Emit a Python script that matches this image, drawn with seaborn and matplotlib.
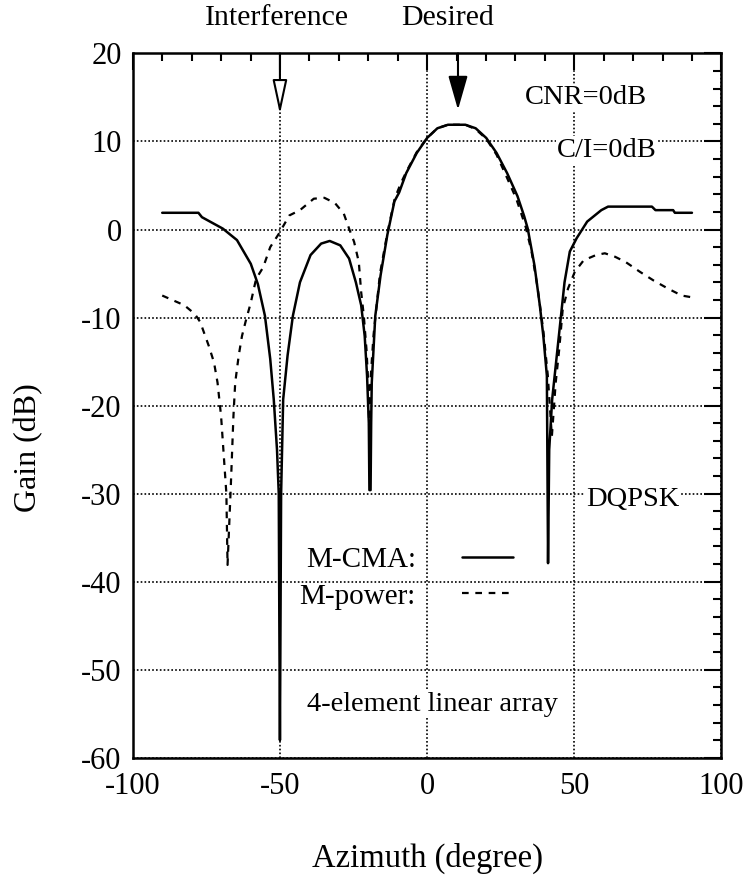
import numpy as np
import pandas as pd
import matplotlib
matplotlib.use('Agg')
import matplotlib.pyplot as plt
import seaborn as sns
from matplotlib.ticker import MultipleLocator

# M-CMA (solid)
az_cma = [-90, -77.7, -76.5, -69.4, -64.6, -59.9, -57.5, -55.1, -53.3, -52.1, -51.0,
          -50.4, -50.2, -50.0, -49.6, -48.9, -47.4, -45.6, -43.2, -39.6, -36.0, -33.1,
          -29.5, -26.5, -24.2, -22.4, -21.2, -20.4, -19.8, -19.6, -19.2, -19.0, -18.8,
          -17.6, -15.8, -13.5, -11.1, -9.5, -7.1, -3.5, 0.0, 3.5, 7.1, 13.0, 16.5,
          20.1, 23.6, 27.2, 30.7, 33.0, 34.2, 36.5, 38.3, 39.5, 40.7, 41.1, 41.5,
          42.5, 44.3, 46.7, 48.5, 50.8, 54.4, 59.2, 61.5, 76.4, 77.6, 83.6, 84.2, 90]
gain_cma = [1.9, 1.9, 1.4, 0.1, -1.2, -3.9, -6.2, -9.8, -14.7, -19.3, -25.0,
            -30.0, -45.0, -58.0, -30.0, -19.3, -14.3, -9.8, -6.0, -2.9, -1.6, -1.3,
            -1.8, -3.3, -6.0, -8.6, -12.1, -16.6, -22.0, -29.6, -29.6, -22.0, -17.4,
            -9.8, -5.2, -0.6, 3.2, 4.2, 6.4, 8.7, 10.4, 11.5, 11.9, 11.9, 11.5,
            10.4, 8.7, 6.4, 3.8, 1.5, 0.1, -4.1, -8.6, -12.1, -16.6, -37.9, -25.0,
            -19.3, -13.6, -6.0, -2.5, -1.0, 0.9, 2.2, 2.6, 2.6, 2.2, 2.2, 1.9, 1.9]

# M-power (dashed)
az_pow = [-90, -82.5, -78.9, -77.1, -74.2, -72.4, -71.2, -70.0, -68.2, -67.8,
          -66.7, -65.8, -65.2, -64.0, -62.9, -61.7, -59.9, -58.1, -55.7, -53.3,
          -50.4, -46.8, -43.2, -38.5, -34.9, -31.3, -28.3, -26.5, -24.8, -23.2,
          -22.4, -21.5, -20.6, -20.0, -19.6, -19.2, -18.2, -16.0, -13.5, -11.0,
          -9.0, -7.0, -3.5, 0.0, 3.5, 7.1, 13.0, 16.5, 20.1, 23.6, 27.0, 30.3,
          33.5, 35.5, 37.5, 39.5, 41.0, 42.4, 43.7, 44.9, 46.1, 47.9, 50.2, 53.2,
          57.4, 60.4, 63.9, 67.5, 72.3, 77.0, 81.8, 86.5, 90]
gain_pow = [-7.5, -8.6, -9.6, -10.5, -13.2, -15.1, -17.4, -21.2, -30.0, -38.1,
            -29.2, -21.2, -17.4, -14.3, -12.1, -10.5, -8.3, -5.6, -4.3, -2.0,
            -0.5, 1.6, 2.2, 3.5, 3.6, 3.0, 1.8, 0.1, -1.4, -3.7,
            -7.1, -9.8, -13.6, -17.4, -24.0, -17.0, -12.0, -5.0, -0.4, 3.5,
            5.2, 6.6, 8.8, 10.4, 11.5, 11.9, 11.9, 11.4, 10.3, 8.5, 6.0, 3.5,
            0.3, -2.5, -6.5, -11.5, -16.5, -23.5, -17.4, -13.6, -9.0, -6.7, -4.8, -3.5,
            -2.9, -2.7, -3.1, -3.7, -4.8, -5.8, -6.7, -7.5, -7.7]

x_ticks = [-100, -50, 0, 50, 100]
y_ticks = [20, 10, 0, -10, -20, -30, -40, -50, -60]

df_cma = pd.DataFrame({'Azimuth': az_cma, 'Gain': gain_cma})
df_pow = pd.DataFrame({'Azimuth': az_pow, 'Gain': gain_pow})

sns.set_style('white')
plt.rcParams['font.family'] = ['Liberation Serif', 'DejaVu Serif']
plt.rcParams['axes.unicode_minus'] = False
plt.rcParams['text.color'] = 'black'
plt.rcParams['axes.labelcolor'] = 'black'

fig = plt.figure(figsize=(7.46, 8.76), dpi=100)
ax = fig.add_axes([0.178, 0.135, 0.789, 0.804])

sns.lineplot(data=df_cma, x='Azimuth', y='Gain', ax=ax, color='black', lw=1.8,
             sort=False, estimator=None, label='M-CMA:', zorder=4)
sns.lineplot(data=df_pow, x='Azimuth', y='Gain', ax=ax, color='black', lw=1.6,
             sort=False, estimator=None, label='M-power:', zorder=4)
ax.lines[1].set_dashes((3, 3))

ax.set_xlim(-100, 100)
ax.set_ylim(-60, 20)
ax.set_xticks(x_ticks)
ax.set_yticks(y_ticks)
ax.xaxis.set_minor_locator(MultipleLocator(10))
ax.yaxis.set_minor_locator(MultipleLocator(2))
ax.tick_params(which='both', direction='in', top=True, right=True, width=1.5,
               labelsize=22, colors='black')
ax.tick_params(which='major', length=12)
ax.tick_params(which='minor', length=6)
ax.tick_params(axis='x', pad=10)
ax.tick_params(axis='y', pad=8)

ax.grid(True, which='major', color='black', linestyle=(0, (1, 1.3)), lw=1.2)
for s in ax.spines.values():
    s.set_linewidth(1.8)
    s.set_color('black')

ax.set_xlabel('Azimuth (degree)', fontsize=23.5, labelpad=30)
ax.set_ylabel('Gain (dB)', fontsize=23)
ax.yaxis.set_label_coords(-0.152, 0.44)

# arrows for interference / desired directions
ax.annotate('', xy=(-50, 13.1), xytext=(-50, 20),
            arrowprops=dict(arrowstyle='-|>,head_length=0.7,head_width=0.15',
                            fc='white', ec='black', lw=1.5,
                            mutation_scale=30, shrinkA=0, shrinkB=0), zorder=5)
ax.annotate('', xy=(10.5, 13.6), xytext=(10.5, 20),
            arrowprops=dict(arrowstyle='-|>,head_length=0.7,head_width=0.2',
                            fc='black', ec='black', lw=1.5,
                            mutation_scale=30, shrinkA=0, shrinkB=0), zorder=5)

ax.text(-51, 24.0, 'Interference', fontsize=21.5, ha='center', va='center', clip_on=False)
ax.text(7.1, 24.0, 'Desired', fontsize=21.5, ha='center', va='center', clip_on=False)

box = dict(facecolor='white', edgecolor='none', pad=1)
ax.text(33.3, 15, 'CNR=0dB', fontsize=20.5, ha='left', va='center', bbox=box, zorder=3)
ax.text(44.2, 9.0, 'C/I=0dB', fontsize=20.5, ha='left', va='center', bbox=box, zorder=3)
ax.text(54.1, -30.7, 'DQPSK', fontsize=20.5, ha='left', va='center', bbox=box, zorder=3)
ax.text(1.8, -53.9, '4-element linear array', fontsize=20.5, ha='center', va='center',
        bbox=box, zorder=3)

leg = ax.legend(loc='center', bbox_to_anchor=(0.465, 0.255), frameon=False,
                markerfirst=False, fontsize=21, handlelength=1.75, handletextpad=1.6,
                labelspacing=0.35)
for t in leg.get_texts():
    t.set_ha('right')

fig.savefig('out.png', dpi=100)
